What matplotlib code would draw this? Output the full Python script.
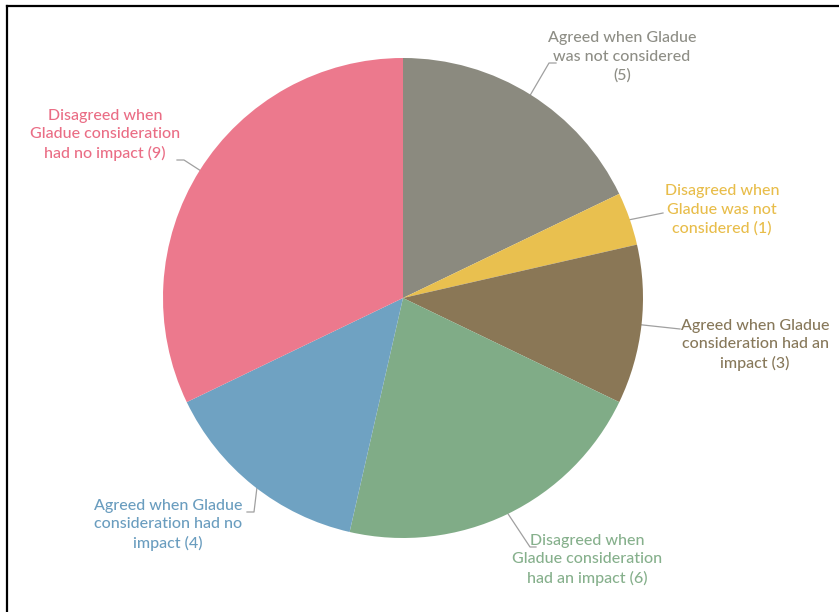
import matplotlib
matplotlib.use("Agg")
import matplotlib.pyplot as plt
import numpy as np
from matplotlib.lines import Line2D

plt.rcParams['font.family'] = ['Lato', 'DejaVu Sans']

labels = ["Agreed when Gladue\nwas not considered\n(5)",
          "Disagreed when\nGladue was not\nconsidered (1)",
          "Agreed when Gladue\nconsideration had an\nimpact (3)",
          "Disagreed when\nGladue consideration\nhad an impact (6)",
          "Agreed when Gladue\nconsideration had no\nimpact (4)",
          "Disagreed when\nGladue consideration\nhad no impact (9)"]
values = [5, 1, 3, 6, 4, 9]
slice_colors = ["#8b8a7f", "#e9c04f", "#8a7756", "#80ac87", "#6fa2c2", "#ec798d"]
text_colors = ["#8e8e86", "#e8bd4a", "#87785a", "#86b08c", "#6a9dbf", "#ea6d85"]

W, H = 839, 612
fig = plt.figure(figsize=(W/100, H/100), dpi=100)
# frame: only top and left edges are visible
fig.lines.append(Line2D([7/W, 1.0], [1-6/H, 1-6/H], transform=fig.transFigure,
                        color="black", linewidth=1.6))
fig.lines.append(Line2D([7/W, 7/W], [0.0, 1-6/H], transform=fig.transFigure,
                        color="black", linewidth=1.6))

cx, cy, r = 403, 298, 240
ax = fig.add_axes([(cx-r)/W, (H-cy-r)/H, 2*r/W, 2*r/H])
wedges, _ = ax.pie(values, colors=slice_colors, startangle=90, counterclock=False,
                   radius=1.0, wedgeprops=dict(linewidth=0))
ax.set_xlim(-1, 1)
ax.set_ylim(-1, 1)
ax.set_aspect('equal')
ax.axis('off')

def d(px, py):
    return ((px-cx)/r, (cy-py)/r)

# layout: text centre (px), elbow points (px)
layout = [
    dict(text=(622, 57), path=[(549, 63), (556, 63)]),
    dict(text=(722, 210), path=[(663, 213)]),
    dict(text=(755, 345), path=[(680, 329)]),
    dict(text=(587, 560), path=[(530, 547), (536, 547)]),
    dict(text=(168, 525), path=[(254, 512), (247, 512)]),
    dict(text=(105, 135), path=[(184, 160), (177, 160)]),
]

total = sum(values)
cum = 0
for i, v in enumerate(values):
    mid = (cum + v/2) / total * 2*np.pi
    cum += v
    ex, ey = np.sin(mid)*0.97, np.cos(mid)*0.97
    pts = [(ex, ey)] + [d(*p) for p in layout[i]['path']]
    xs, ys = zip(*pts)
    ax.plot(xs, ys, color="#a0a0a0", linewidth=0.9, clip_on=False, zorder=0.5)
    tx, ty = d(*layout[i]['text'])
    ax.text(tx, ty, labels[i], ha='center', va='center', color=text_colors[i],
            fontsize=11.5, fontweight='medium', linespacing=1.4, clip_on=False)

fig.savefig("out.png", dpi=100)
